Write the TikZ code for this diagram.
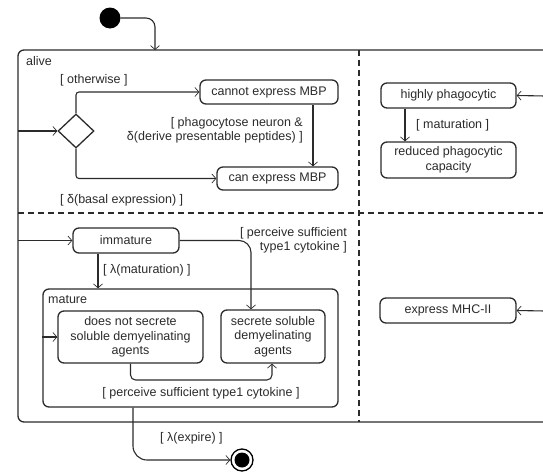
\documentclass[tikz,border=0pt]{standalone}
\usepackage{fontspec}
\setmainfont{Liberation Sans}
\usetikzlibrary{arrows.meta,shapes.geometric}
\definecolor{ink}{HTML}{2B2B2B}
\tikzset{
  every node/.style={font=\fontsize{12.5}{14.5}\selectfont, text=ink},
  statebox/.style={draw=ink, line width=1.3pt, rounded corners=6pt, rectangle,
    inner sep=0pt, align=center},
  region/.style={draw=ink, line width=1.3pt, rounded corners=6pt},
  conn/.style={draw=ink, line width=1.1pt, -{Straight Barb[length=4pt,width=9pt,line width=0.7pt]}},
  guard/.style={inner sep=0pt},
  divider/.style={draw=ink, line width=1.1pt, dash pattern=on 6pt off 4pt},
}
\begin{document}
\begin{tikzpicture}[x=1pt,y=-1pt]
\useasboundingbox (0,0) rectangle (543,471);
\clip (0,0) rectangle (543,471);

% composite state "alive" (runs off the right edge)
\draw[region] (18,50) rectangle (600,422);
\node[guard, anchor=west] (alivelbl) at (26,61) {alive};
\draw[divider] (18,213) -- (600,213);
\draw[divider] (359,50) -- (359,422);

% initial and final pseudostates
\node[circle, fill=black, minimum size=21pt, inner sep=0pt] (init) at (110,18) {};
\node[circle, draw=black, line width=1.3pt, minimum size=22pt, inner sep=0pt] (final) at (242,460) {};
\node[circle, fill=black, minimum size=15pt, inner sep=0pt] (finaldot) at (final) {};
\coordinate (alivetop) at (155,50);
\draw[conn, rounded corners=9pt] (init.east) -- (155,18) -- (alivetop);

% MBP region
\node[diamond, draw=ink, line width=1.3pt, minimum width=36pt, minimum height=34pt, inner sep=0pt] (dec) at (76,131) {};
\node[statebox, minimum width=138pt, minimum height=24pt] (cannot) at (269,92) {cannot express MBP};
\node[statebox, minimum width=121pt, minimum height=23pt] (can) at (277.5,178.5) {can express MBP};
\coordinate (decin) at (18,131);
\draw[conn] (decin) -- (dec.west);
\draw[conn, rounded corners=3pt] (dec.north) |- (cannot.west);
\draw[conn, rounded corners=3pt] (dec.south) |- (can.west);
\draw[conn] ([xshift=44pt]cannot.south) -- ([xshift=44pt]cannot.south |- can.north);
\node[guard, anchor=west] (g1) at (60,80) {[ otherwise ]};
\node[guard, anchor=west] (g2) at (60,200) {[ δ(basal expression) ]};
\node[guard, anchor=east, align=right] (g3) at (303,130.5) {[ phagocytose neuron \&\\δ(derive presentable peptides) ]};

% phagocytic region
\node[statebox, minimum width=135pt, minimum height=25pt] (highly) at (448.5,95.5) {highly phagocytic};
\node[statebox, minimum width=135pt, minimum height=36pt] (reduced) at (448.5,160) {reduced phagocytic\\capacity};
\coordinate (highlyin) at (545,96);
\draw[conn] (highlyin) -- (highly.east);
\draw[conn] ([xshift=-43.5pt]highly.south) -- ([xshift=-43.5pt]highly.south |- reduced.north);
\node[guard, anchor=west] (g4) at (416,125) {[ maturation ]};

% maturation region
\node[statebox, minimum width=106pt, minimum height=25pt] (immature) at (126,240.5) {immature};
\node[statebox, minimum width=295pt, minimum height=118pt] (mature) at (190.5,348) {};
\node[guard, anchor=west] (maturelbl) at (48,300) {mature};
\node[statebox, minimum width=145pt, minimum height=52pt] (dns) at (130.5,337) {does not secrete\\soluble demyelinating\\agents};
\node[statebox, minimum width=104pt, minimum height=53pt] (secrete) at (273,336.5) {secrete soluble\\demyelinating\\agents};
\coordinate (immin) at (18,240.5);
\draw[conn] (immin) -- (immature.west);
\draw[conn] ([xshift=-28pt]immature.south) -- ([xshift=-28pt]immature.south |- mature.north);
\draw[conn, rounded corners=12pt] (immature.east) -- (251,240.5) -- ([xshift=-22pt]secrete.north);
\draw[conn] (mature.west |- dns.west) -- (dns.west);
\coordinate (loop) at (200,380);
\draw[conn, rounded corners=5pt] (dns.south) |- (loop) -| ([xshift=-1pt]secrete.south);
\draw[conn, rounded corners=14pt] ([xshift=-57.5pt]mature.south) |- (final.west);
\node[guard, anchor=west] (g5) at (103,270) {[ λ(maturation) ]};
\node[guard, anchor=east, align=right] (g6) at (347,240.5) {[ perceive sufficient\\type1 cytokine ]};
\node[guard] (g7) at (201,393) {[ perceive sufficient type1 cytokine ]};
\node[guard, anchor=west] (g8) at (160,438) {[ λ(expire) ]};

% MHC region
\node[statebox, minimum width=136pt, minimum height=25pt] (mhc) at (448,310.5) {express MHC-II};
\coordinate (mhcin) at (545,311);
\draw[conn] (mhcin) -- (mhc.east);
\end{tikzpicture}
\end{document}
